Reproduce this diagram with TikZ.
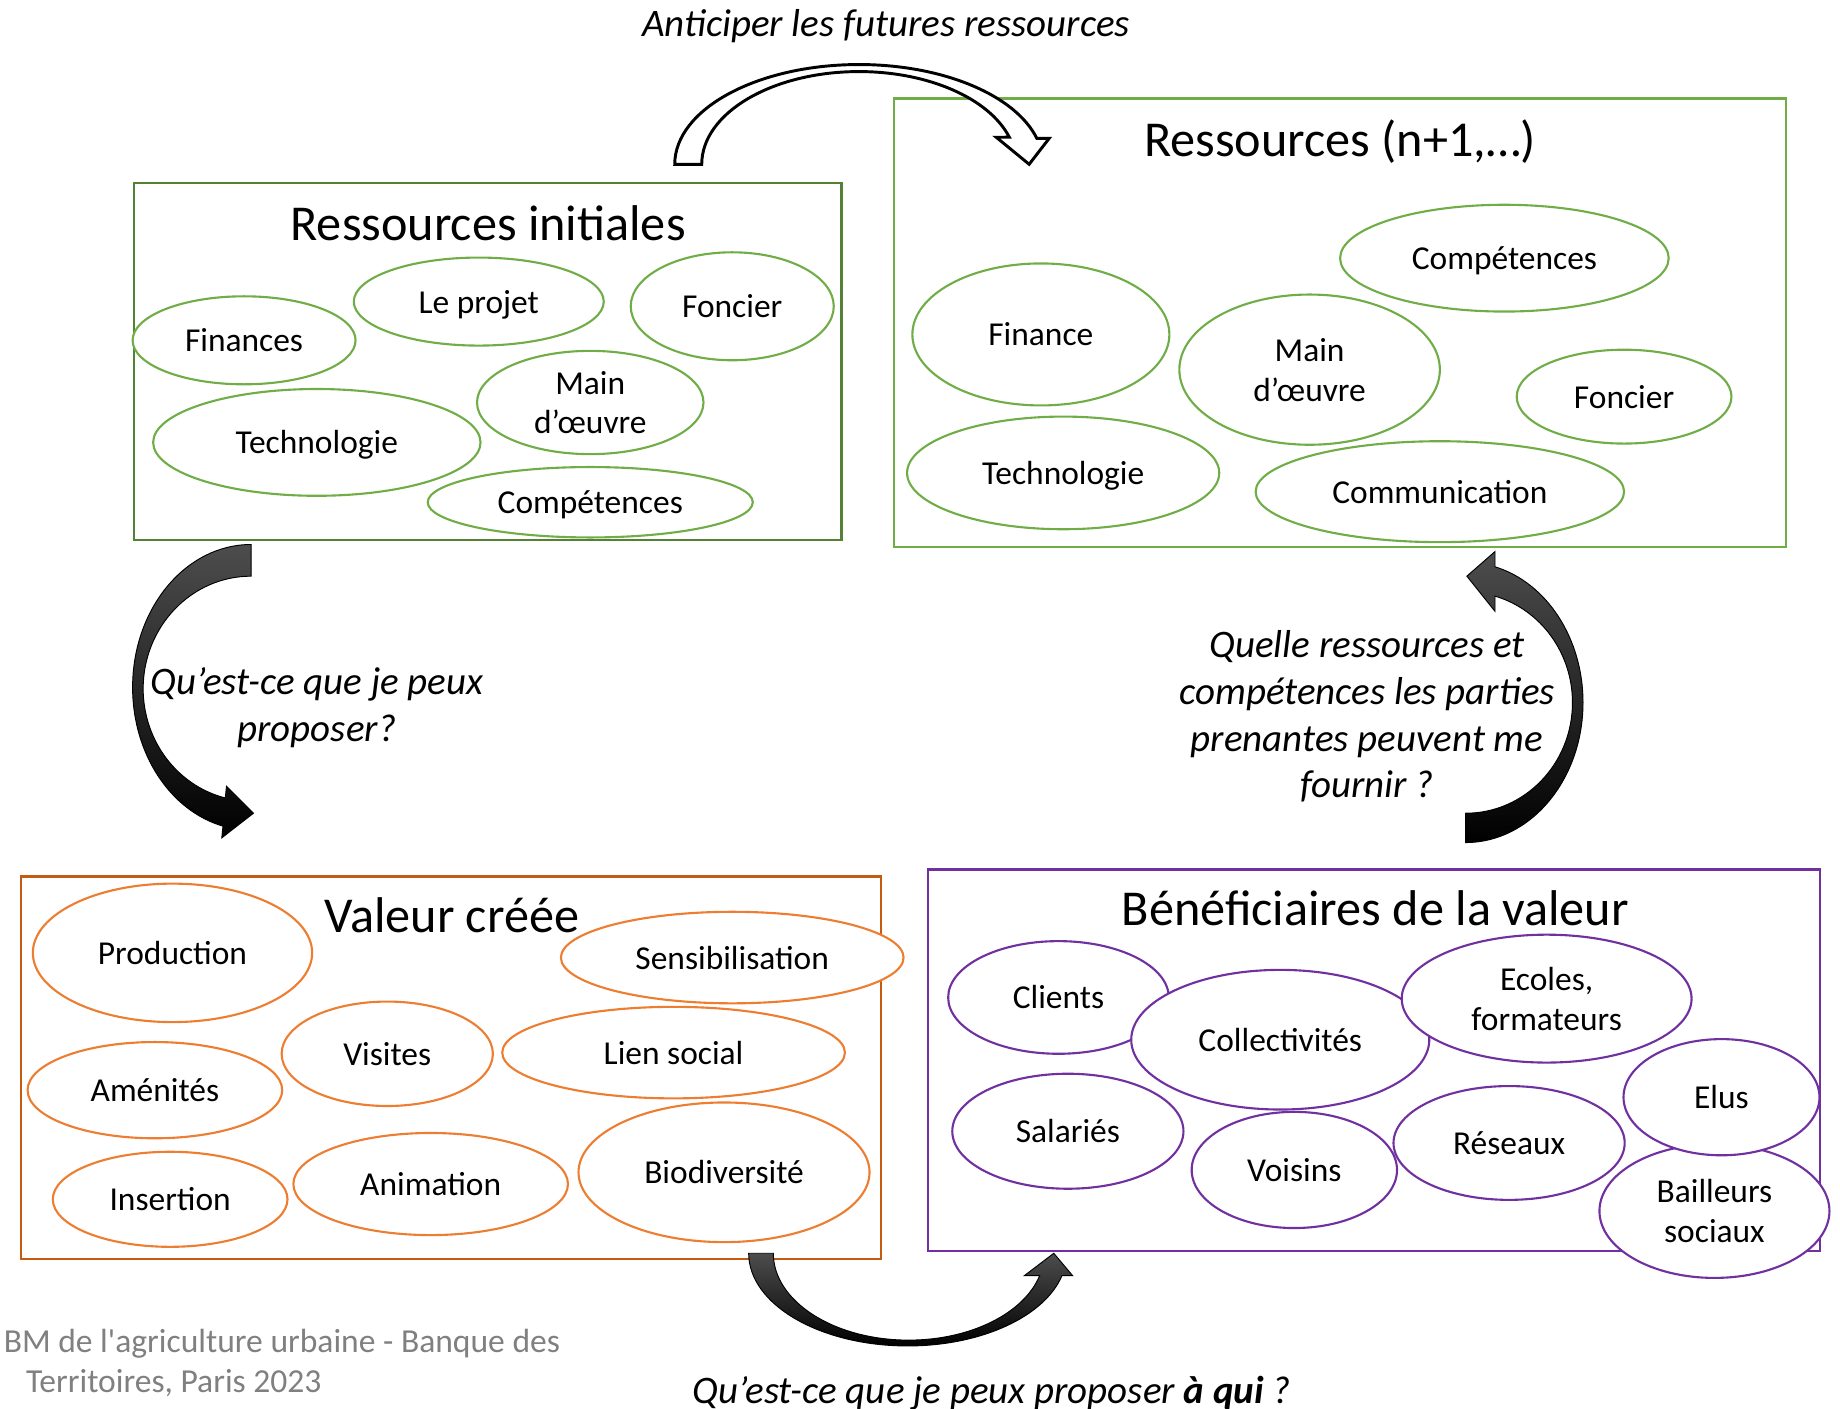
\documentclass[tikz,border=0pt]{standalone}
\usepackage{fontspec}
\setmainfont{Carlito}
\usetikzlibrary{shapes.geometric}
\definecolor{grnE}{HTML}{70AD47}
\definecolor{grnB}{HTML}{548235}
\definecolor{orgE}{HTML}{ED7D31}
\definecolor{orgB}{HTML}{C55A11}
\definecolor{purp}{HTML}{7030A0}
\definecolor{srcgray}{HTML}{808080}
\definecolor{arrtop}{HTML}{4D4D4D}
\newcommand\myLbl{\fontsize{28.5}{34}\selectfont}
\newcommand\mySrc{\fontsize{28.6}{34}\selectfont}
\newcommand\myTitle{\fontsize{42.8}{50}\selectfont}
\newcommand\myItal{\fontsize{33.2}{40}\selectfont\itshape}
\begin{document}
\begin{tikzpicture}[x=1pt,y=-1pt,
  ell/.style={ellipse, draw=#1, fill=white, line width=1.8pt, inner sep=0pt},
  lbltext/.style={font=\myLbl, align=center, inner sep=0pt, text=black, yshift=-3pt},
  boxnode/.style={draw=#1, line width=2pt, inner sep=0pt, rectangle},
  titletext/.style={font=\myTitle, inner sep=0pt, yshift=-4pt},
  italtext/.style={font=\myItal, align=center, inner sep=0pt, yshift=-3pt},
  srctext/.style={font=\mySrc, text=srcgray, anchor=west, inner sep=0pt, yshift=-3pt},
  blackarrow/.style={top color=arrtop, bottom color=black, draw=black, line width=0.8pt, line join=miter},
  whitearrow/.style={fill=white, draw=black, line width=2.5pt, line join=miter}
]
\useasboundingbox (0,0) rectangle (1568,1200.7);

% ---------- boxes ----------
\node[boxnode=grnB, minimum width=603pt, minimum height=304pt] (box1) at (415.5,308) {};
\node[boxnode=grnE, minimum width=760pt, minimum height=382pt] (box2) at (1142,275) {};
\node[boxnode=orgB, minimum width=733pt, minimum height=326pt] (box3) at (384.5,910) {};
\node[boxnode=purp, minimum width=760pt, minimum height=325pt] (box4) at (1171,903.5) {};

% ---------- titles ----------
\node[titletext] (h1) at (416,191) {Ressources initiales\strut};
\node[titletext] (h2) at (1142,119) {Ressources (n+1,…)\strut};
\node[titletext] (h3) at (385,781) {Valeur créée\strut};
\node[titletext] (h4) at (1172,775) {Bénéficiaires de la valeur\strut};

% ---------- Ressources initiales ----------
\node[ell=grnE, minimum width=190pt, minimum height=75pt, label={[lbltext]center:Finances\strut}] (a1) at (208,290) {};
\node[ell=grnE, minimum width=213pt, minimum height=75pt, label={[lbltext]center:Le projet\strut}] (a2) at (408,257) {};
\node[ell=grnE, minimum width=173pt, minimum height=92pt, label={[lbltext]center:Foncier\strut}] (a3) at (624,261) {};
\node[ell=grnE, minimum width=193pt, minimum height=88pt, label={[lbltext]center:Main\strut\\d’œuvre\strut}] (a4) at (503,343) {};
\node[ell=grnE, minimum width=279pt, minimum height=91pt, label={[lbltext]center:Technologie\strut}] (a5) at (270,377) {};
\node[ell=grnE, minimum width=277pt, minimum height=60pt, label={[lbltext]center:Compétences\strut}] (a6) at (503,428) {};

% ---------- Ressources (n+1) ----------
\node[ell=grnE, minimum width=280pt, minimum height=91pt, label={[lbltext]center:Compétences\strut}] (b1) at (1282,220) {};
\node[ell=grnE, minimum width=219pt, minimum height=121pt, label={[lbltext]center:Finance\strut}] (b2) at (887,285) {};
\node[ell=grnE, minimum width=222pt, minimum height=128pt, label={[lbltext]center:Main\strut\\d’œuvre\strut}] (b3) at (1116,315) {};
\node[ell=grnE, minimum width=183pt, minimum height=80pt, label={[lbltext]center:Foncier\strut}] (b4) at (1384,338) {};
\node[ell=grnE, minimum width=266pt, minimum height=96pt, label={[lbltext]center:Technologie\strut}] (b5) at (906,403) {};
\node[ell=grnE, minimum width=314pt, minimum height=86pt, label={[lbltext]center:Communication\strut}] (b6) at (1227,419) {};

% ---------- Valeur créée ----------
\node[ell=orgE, minimum width=238pt, minimum height=118pt, label={[lbltext]center:Production\strut}] (c1) at (147,812) {};
\node[ell=orgE, minimum width=292pt, minimum height=78pt, label={[lbltext]center:Sensibilisation\strut}] (c2) at (624,816) {};
\node[ell=orgE, minimum width=180pt, minimum height=89pt, label={[lbltext]center:Visites\strut}] (c3) at (330,898) {};
\node[ell=orgE, minimum width=292pt, minimum height=78pt, label={[lbltext]center:Lien social\strut}] (c4) at (574,897) {};
\node[ell=orgE, minimum width=217pt, minimum height=82pt, label={[lbltext]center:Aménités\strut}] (c5) at (132,929) {};
\node[ell=orgE, minimum width=248pt, minimum height=119pt, label={[lbltext]center:Biodiversité\strut}] (c6) at (617,999) {};
\node[ell=orgE, minimum width=234pt, minimum height=87pt, label={[lbltext]center:Animation\strut}] (c7) at (367,1009) {};
\node[ell=orgE, minimum width=200pt, minimum height=81pt, label={[lbltext]center:Insertion\strut}] (c8) at (145,1022) {};

% ---------- Bénéficiaires ----------
\node[ell=purp, minimum width=188pt, minimum height=96pt, label={[lbltext]center:Clients\strut}] (d1) at (902,850) {};
\node[ell=purp, minimum width=254pt, minimum height=119pt, label={[lbltext]center:Collectivités\strut}] (d2) at (1091,886) {};
\node[ell=purp, minimum width=247pt, minimum height=109pt, label={[lbltext]center:Ecoles,\strut\\formateurs\strut}] (d3) at (1318,851) {};
\node[ell=purp, minimum width=197pt, minimum height=98pt, label={[lbltext]center:Salariés\strut}] (d4) at (910,964) {};
\node[ell=purp, minimum width=175pt, minimum height=99pt, label={[lbltext]center:Voisins\strut}] (d5) at (1103,997) {};
\node[ell=purp, minimum width=197pt, minimum height=97pt, label={[lbltext]center:Réseaux\strut}] (d6) at (1286,974) {};
\node[ell=purp, minimum width=196pt, minimum height=114pt, label={[lbltext]center:Bailleurs\strut\\sociaux\strut}] (d7) at (1461,1032) {};
\node[ell=purp, minimum width=167pt, minimum height=99pt, label={[lbltext]center:Elus\strut}] (d8) at (1467,935) {};

% ---------- arrows ----------
% top white arrow
\draw[whitearrow]
 (575,140) .. controls (575,93.1) and (645.3,55) .. (732,55)
 .. controls (803.1,55) and (865.2,80.8) .. (883.6,118)
 -- (894,118) -- (877,140) -- (849,117) -- (860.1,116.9)
 .. controls (842.9,83.7) and (790.9,61) .. (732,61)
 .. controls (658,61) and (598,96.4) .. (598,140) -- cycle;

% left black arrow
\draw[blackarrow]
 (214,464) .. controls (158.2,464) and (113,518.5) .. (113,585.8)
 .. controls (113,641.9) and (144.8,690.8) .. (190,704)
 -- (189,714) -- (216,693) -- (193,670) -- (192,680)
 .. controls (150.9,669.5) and (122,631) .. (122,586.9)
 .. controls (122,533.9) and (163.2,491) .. (214,491) -- cycle;

% right black arrow
\draw[blackarrow]
 (1249,718) .. controls (1304.2,718) and (1349,664.5) .. (1349,598.6)
 .. controls (1349,544.2) and (1318.2,496.6) .. (1274,483)
 -- (1274,470) -- (1250,491) -- (1274,521) -- (1274,508)
 .. controls (1313.1,519.6) and (1340,556.6) .. (1340,598.7)
 .. controls (1340,650.8) and (1299.3,693) .. (1249,693) -- cycle;

% bottom black arrow
\draw[blackarrow]
 (638,1068) .. controls (638,1111.6) and (698.7,1147) .. (773.5,1147)
 .. controls (835.8,1147) and (890.1,1122.2) .. (905,1087)
 -- (914,1087) -- (898,1068) -- (873,1087) -- (886,1087)
 .. controls (872.5,1119.4) and (826.7,1142) .. (774.4,1142)
 .. controls (710.7,1142) and (659,1108.9) .. (659,1068) -- cycle;

% ---------- italic labels ----------
\node[italtext] (q1) at (755,20) {Anticiper les futures ressources\strut};
\node[italtext] (q2) at (270,601) {Qu’est-ce que je peux\strut\\proposer?\strut};
\node[italtext] (q3) at (1165,609) {Quelle ressources et\strut\\compétences les parties\\prenantes peuvent me\\fournir ?\strut};
\node[italtext] (q4) at (845,1185) {Qu’est-ce que je peux proposer \textbf{à qui} ?\strut};

% ---------- source ----------
\node[srctext] (s1) at (3,1143) {BM de l\textquotesingle agriculture urbaine - Banque des\strut};
\node[srctext] (s2) at (22,1177) {Territoires, Paris 2023\strut};
\end{tikzpicture}
\end{document}
